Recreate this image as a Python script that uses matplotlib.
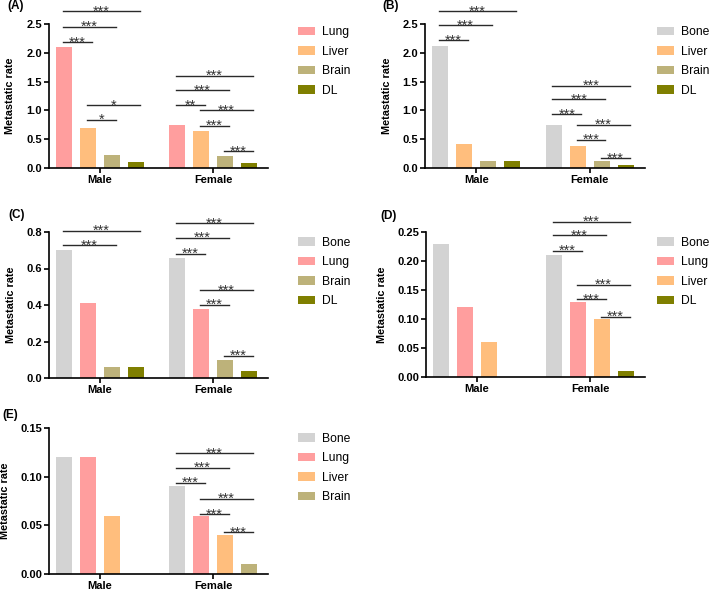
import numpy as np
import matplotlib
matplotlib.use('Agg')
import matplotlib.pyplot as plt

plt.rcParams['font.family'] = ['Liberation Sans', 'DejaVu Sans']

groups = ['Male', 'Female']

colors = {'Bone': '#d3d3d3', 'Lung': '#ff9e9e', 'Liver': '#ffbe7d',
          'Brain': '#bdb27a', 'DL': '#7f7f00'}

# (A)
a_sites = ['Lung', 'Liver', 'Brain', 'DL']
a_male = [2.10, 0.70, 0.23, 0.11]
a_female = [0.74, 0.65, 0.20, 0.09]
a_ticks = [0.0, 0.5, 1.0, 1.5, 2.0, 2.5]
# (group, bar i, bar j, line height, stars)
a_sig = [(0, 0, 1, 2.18, '***'), (0, 0, 2, 2.45, '***'), (0, 0, 3, 2.72, '***'),
         (0, 1, 2, 0.84, '*'), (0, 1, 3, 1.09, '*'),
         (1, 0, 1, 1.09, '**'), (1, 0, 2, 1.35, '***'), (1, 0, 3, 1.60, '***'),
         (1, 1, 2, 0.735, '***'), (1, 1, 3, 1.00, '***'), (1, 2, 3, 0.29, '***')]

# (B)
b_sites = ['Bone', 'Liver', 'Brain', 'DL']
b_male = [2.11, 0.41, 0.12, 0.12]
b_female = [0.74, 0.39, 0.12, 0.06]
b_ticks = [0.0, 0.5, 1.0, 1.5, 2.0, 2.5]
b_sig = [(0, 0, 1, 2.22, '***'), (0, 0, 2, 2.48, '***'), (0, 0, 3, 2.72, '***'),
         (1, 0, 1, 0.93, '***'), (1, 0, 2, 1.19, '***'), (1, 0, 3, 1.43, '***'),
         (1, 1, 2, 0.49, '***'), (1, 1, 3, 0.75, '***'), (1, 2, 3, 0.17, '***')]

# (C)
c_sites = ['Bone', 'Lung', 'Brain', 'DL']
c_male = [0.70, 0.41, 0.06, 0.06]
c_female = [0.66, 0.38, 0.10, 0.04]
c_ticks = [0.0, 0.2, 0.4, 0.6, 0.8]
c_sig = [(0, 0, 2, 0.727, '***'), (0, 0, 3, 0.805, '***'),
         (1, 0, 1, 0.68, '***'), (1, 0, 2, 0.767, '***'), (1, 0, 3, 0.847, '***'),
         (1, 1, 2, 0.40, '***'), (1, 1, 3, 0.48, '***'), (1, 2, 3, 0.12, '***')]

# (D)
d_sites = ['Bone', 'Lung', 'Liver', 'DL']
d_male = [0.23, 0.12, 0.06, 0.0]
d_female = [0.21, 0.13, 0.10, 0.01]
d_ticks = [0.00, 0.05, 0.10, 0.15, 0.20, 0.25]
d_sig = [(1, 0, 1, 0.218, '***'), (1, 0, 2, 0.244, '***'), (1, 0, 3, 0.268, '***'),
         (1, 1, 2, 0.134, '***'), (1, 1, 3, 0.159, '***'), (1, 2, 3, 0.104, '***')]

# (E)
e_sites = ['Bone', 'Lung', 'Liver', 'Brain']
e_male = [0.12, 0.12, 0.06, 0.0]
e_female = [0.09, 0.06, 0.04, 0.01]
e_ticks = [0.00, 0.05, 0.10, 0.15]
e_sig = [(1, 0, 1, 0.094, '***'), (1, 0, 2, 0.109, '***'), (1, 0, 3, 0.124, '***'),
         (1, 1, 2, 0.0615, '***'), (1, 1, 3, 0.077, '***'), (1, 2, 3, 0.043, '***')]

W, H = 709, 595
fig = plt.figure(figsize=(W / 100, H / 100), dpi=100)

GROUP_GAP = 4.71
BAR_W = 0.667


def px_axes(left, top, right, bottom):
    return fig.add_axes([left / W, 1 - bottom / H, (right - left) / W, (bottom - top) / H])


def draw_panel(ax, label, sites, male, female, ticks, fmt, sig, ylab_x, label_xy, leg_xy):
    for k, s in enumerate(sites):
        vals = [male[k], female[k]]
        xs = [k, k + GROUP_GAP]
        ax.bar(xs, vals, width=BAR_W, color=colors[s], label=s, zorder=2)
    ax.set_xlim(-0.625, 8.5)
    ax.set_ylim(0, ticks[-1])
    ax.set_yticks(ticks)
    ax.set_yticklabels([fmt.format(t) for t in ticks])
    ax.set_xticks([1.5, 1.5 + GROUP_GAP])
    ax.set_xticklabels(groups)
    for sp in ['top', 'right']:
        ax.spines[sp].set_visible(False)
    for sp in ['left', 'bottom']:
        ax.spines[sp].set_linewidth(1.2)
    ax.tick_params(axis='both', direction='out', length=3.5, width=1.2,
                   labelsize=8, pad=1.5)
    for t in ax.get_xticklabels() + ax.get_yticklabels():
        t.set_fontweight('bold')
    ax.set_ylabel('Metastatic rate', fontsize=7.8, fontweight='bold')
    ax.yaxis.set_label_coords(ylab_x, 0.5)

    for g, i, j, y, stars in sig:
        x0 = i + g * GROUP_GAP - 0.05
        x1 = j + g * GROUP_GAP + 0.15
        ax.plot([x0, x1], [y, y], color='#2a2a2a', lw=1.0, clip_on=False, zorder=3)
        ax.annotate(stars, xy=((x0 + x1) / 2, y), xytext=(0, -3),
                    textcoords='offset points', ha='center', va='baseline',
                    fontsize=10.5, color='#333333', annotation_clip=False)

    fig.text(label_xy[0] / W, 1 - label_xy[1] / H, label, fontsize=8.5,
             fontweight='bold', ha='left', va='center')
    ax.legend(loc='center left', bbox_to_anchor=(leg_xy[0] / W, 1 - leg_xy[1] / H),
              bbox_transform=fig.transFigure, frameon=False, fontsize=8.7,
              handlelength=1.4, handleheight=0.65, handletextpad=0.55,
              labelspacing=0.62, borderpad=0, borderaxespad=0)


axA = px_axes(49, 24, 268, 168)
draw_panel(axA, '(A)', a_sites, a_male, a_female, a_ticks, '{:.1f}', a_sig,
           (15 - 49) / 219, (7, 6), (298, 61.5))

axB = px_axes(425, 24, 645, 168)
draw_panel(axB, '(B)', b_sites, b_male, b_female, b_ticks, '{:.1f}', b_sig,
           (392 - 425) / 220, (382, 6), (657, 61.5))

axC = px_axes(49, 232, 268, 378)
draw_panel(axC, '(C)', c_sites, c_male, c_female, c_ticks, '{:.1f}', c_sig,
           (16 - 49) / 219, (8, 215), (298, 272))

axD = px_axes(426, 232, 645, 377)
draw_panel(axD, '(D)', d_sites, d_male, d_female, d_ticks, '{:.2f}', d_sig,
           (387 - 426) / 219, (380, 216), (657, 272))

axE = px_axes(49, 428, 268, 574)
draw_panel(axE, '(E)', e_sites, e_male, e_female, e_ticks, '{:.2f}', e_sig,
           (10 - 49) / 219, (2, 415), (298, 468))

fig.savefig('out.png', dpi=100)
